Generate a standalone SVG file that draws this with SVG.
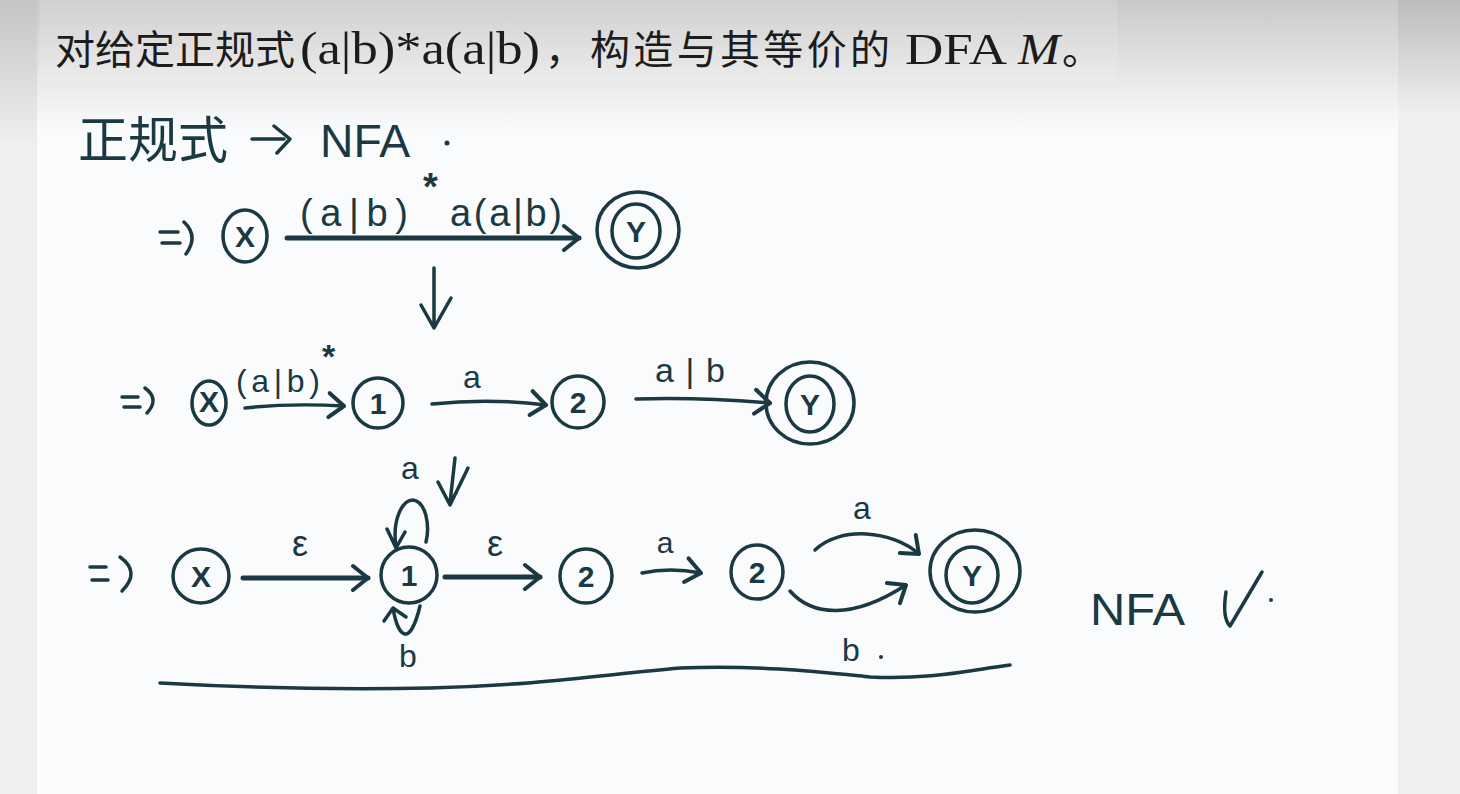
<svg xmlns="http://www.w3.org/2000/svg" width="1460" height="794" viewBox="0 0 1460 794">
<defs>
<linearGradient id="gMain" gradientUnits="userSpaceOnUse" x1="0" y1="0" x2="0" y2="130">
<stop offset="0" stop-color="#c9c9c9"/><stop offset="0.6" stop-color="#e8e8e9"/><stop offset="1" stop-color="#fafbfd"/>
</linearGradient>
<linearGradient id="gTitle" gradientUnits="userSpaceOnUse" x1="0" y1="0" x2="0" y2="82">
<stop offset="0" stop-color="#d0d0d0"/><stop offset="1" stop-color="#ececec"/>
</linearGradient>
<linearGradient id="gLeft" gradientUnits="userSpaceOnUse" x1="0" y1="0" x2="0" y2="140">
<stop offset="0" stop-color="#c4c4c4"/><stop offset="1" stop-color="#eeeeee"/>
</linearGradient>
<linearGradient id="gRight" gradientUnits="userSpaceOnUse" x1="0" y1="0" x2="0" y2="115">
<stop offset="0" stop-color="#bcbcbc"/><stop offset="1" stop-color="#f0f0f0"/>
</linearGradient>
<marker id="arr" viewBox="0 0 20 30" refX="18" refY="15" markerWidth="20" markerHeight="30" markerUnits="userSpaceOnUse" orient="auto">
<path d="M3,3 L18,15 L3,27" fill="none" stroke="#1a3942" stroke-width="4" stroke-linecap="round" stroke-linejoin="round"/>
</marker>
<style>
.ink{fill:none;stroke:#1a3942;stroke-width:3.5;stroke-linecap:round;stroke-linejoin:round}
.thick{stroke-width:5}
.hw{font-family:"Liberation Sans","Noto Sans CJK SC",sans-serif;fill:#1a3942}
.title{font-family:"Liberation Serif","Noto Sans CJK SC",serif;fill:#1c1c1c;font-size:40px}
.lbl{font-size:30px;text-anchor:middle;font-weight:bold}
</style>
</defs>

<!-- background -->
<rect x="0" y="0" width="1460" height="794" fill="#fafbfd"/>
<rect x="37" y="0" width="1361" height="130" fill="url(#gMain)"/>
<rect x="0" y="0" width="37" height="794" fill="#efefef"/>
<rect x="0" y="0" width="37" height="140" fill="url(#gLeft)"/>
<rect x="1398" y="0" width="62" height="794" fill="#f0f0f0"/>
<rect x="1398" y="0" width="62" height="115" fill="url(#gRight)"/>
<rect x="40" y="0" width="1077" height="82" fill="url(#gTitle)"/>

<!-- title -->
<text class="title" y="64"><tspan x="55">对给定正规式</tspan><tspan x="300" font-size="46" textLength="240" lengthAdjust="spacingAndGlyphs">(a|b)*a(a|b)</tspan><tspan x="545">，</tspan><tspan x="590" textLength="300" lengthAdjust="spacing">构造与其等价的</tspan><tspan x="905" font-size="44" textLength="102" lengthAdjust="spacingAndGlyphs">DFA</tspan><tspan x="1018" font-size="44" font-style="italic" textLength="42" lengthAdjust="spacingAndGlyphs">M</tspan><tspan x="1062">。</tspan></text>

<!-- heading: 正规式 -> NFA -->
<g id="heading">
<text class="hw" x="78" y="158" font-size="50">正规式</text>
<path class="ink" d="M252,139 L284,139 M274,126 L290,139 L277,153"/>
<text class="hw" x="320" y="157" font-size="46" textLength="90" lengthAdjust="spacingAndGlyphs">NFA</text>
<circle cx="447" cy="143" r="2.5" fill="#1a3942"/>
</g>

<!-- Row 1 -->
<g id="r1-start"><path class="ink" d="M160,232 L178,232 M162,243 L180,243 M184,222 Q199,236 186,254"/></g>
<g id="r1-X"><ellipse class="ink" cx="245" cy="236" rx="22" ry="26"/><text class="hw lbl" x="245" y="247">X</text></g>
<g id="r1-Y"><ellipse class="ink" cx="638" cy="230" rx="41" ry="38"/><ellipse class="ink" cx="636" cy="231" rx="24" ry="27"/><text class="hw lbl" x="636" y="242" font-size="32">Y</text></g>

<!-- Row 2 -->
<g id="r2-start"><path class="ink" d="M122,397 L138,397 M124,407 L140,407 M145,388 Q160,399 147,413"/></g>
<g id="r2-X"><ellipse class="ink" cx="209" cy="403" rx="17" ry="22"/><text class="hw lbl" x="209" y="412" font-size="24">X</text></g>
<g id="r2-1"><ellipse class="ink" cx="378" cy="403" rx="25" ry="25"/><text class="hw lbl" x="378" y="414">1</text></g>
<g id="r2-2"><ellipse class="ink" cx="578" cy="402" rx="26" ry="26"/><text class="hw lbl" x="578" y="413">2</text></g>
<g id="r2-Y"><ellipse class="ink" cx="810" cy="403" rx="44" ry="41"/><ellipse class="ink" cx="810" cy="404" rx="24" ry="28"/><text class="hw lbl" x="810" y="415">Y</text></g>

<!-- Row 3 -->
<g id="r3-start"><path class="ink" d="M90,567 L106,567 M92,580 L108,580 M120,557 Q141,572 122,591"/></g>
<g id="r3-X"><ellipse class="ink" cx="201" cy="576" rx="28" ry="27"/><text class="hw lbl" x="201" y="587">X</text></g>
<g id="r3-1"><ellipse class="ink" cx="409" cy="575" rx="28" ry="28"/><text class="hw lbl" x="409" y="586">1</text></g>
<g id="r3-2a"><ellipse class="ink" cx="586" cy="576" rx="26" ry="27"/><text class="hw lbl" x="586" y="587">2</text></g>
<g id="r3-2b"><ellipse class="ink" cx="757" cy="572" rx="26" ry="27"/><text class="hw lbl" x="757" y="583">2</text></g>
<g id="r3-Y"><ellipse class="ink" cx="975" cy="571" rx="45" ry="41"/><ellipse class="ink" cx="972" cy="575" rx="26" ry="28"/><text class="hw lbl" x="972" y="586">Y</text></g>

<!-- NFA check -->
<g id="nfa-check">
<text class="hw" x="1090" y="625" font-size="44" textLength="95" lengthAdjust="spacingAndGlyphs">NFA</text>
<path class="ink" d="M1226,592 Q1222,618 1230,626 L1262,572"/>
<circle cx="1271" cy="600" r="2" fill="#1a3942"/>
</g>

<!-- connectors -->
<g id="connectors">
<!-- row 1 -->
<path class="ink thick" d="M287,238 L579,238" marker-end="url(#arr)"/>
<text class="hw" x="300" y="226" font-size="38" textLength="108" lengthAdjust="spacing">(a|b)</text>
<text class="hw" x="423" y="200" font-size="38" font-weight="bold">*</text>
<text class="hw" x="450" y="226" font-size="38" textLength="112" lengthAdjust="spacing">a(a|b)</text>
<!-- transform arrow 1 -->
<path class="ink" d="M434,268 L434,326 M421,305 L434,328 L451,298"/>
<!-- row 2 -->
<path class="ink" d="M245,408 Q290,403 344,406" marker-end="url(#arr)"/>
<text class="hw" x="236" y="392" font-size="32" textLength="84" lengthAdjust="spacing">(a|b)</text>
<text class="hw" x="322" y="368" font-size="34" font-weight="bold">*</text>
<path class="ink" d="M432,404 Q490,398 546,405" marker-end="url(#arr)"/>
<text class="hw" x="472" y="388" font-size="32" text-anchor="middle">a</text>
<path class="ink" d="M636,399 Q700,397 770,403" marker-end="url(#arr)"/>
<text class="hw" x="690" y="382" font-size="34" text-anchor="middle" textLength="70" lengthAdjust="spacing">a|b</text>
<!-- transform arrow 2 -->
<path class="ink" d="M455,458 L450,503 M438,482 L450,505 L468,468"/>
<!-- row 3 -->
<path class="ink thick" d="M243,578 L368,578" marker-end="url(#arr)"/>
<text class="hw" x="300" y="556" font-size="36" text-anchor="middle">ε</text>
<path class="ink" d="M396,547 C392,520 402,500 413,500 C426,502 430,525 426,542 M387,529 L396,548 L405,532"/>
<text class="hw" x="410" y="479" font-size="32" text-anchor="middle">a</text>
<path class="ink" d="M393,608 C398,638 410,648 420,606 M384,621 L393,608 L406,617"/>
<text class="hw" x="408" y="667" font-size="32" text-anchor="middle">b</text>
<path class="ink thick" d="M445,577 L540,577" marker-end="url(#arr)"/>
<text class="hw" x="495" y="556" font-size="36" text-anchor="middle">ε</text>
<path class="ink" d="M642,573 Q670,567 701,573" marker-end="url(#arr)"/>
<text class="hw" x="665" y="553" font-size="30" text-anchor="middle">a</text>
<path class="ink" d="M815,550 C840,526 892,530 919,554" marker-end="url(#arr)"/>
<text class="hw" x="862" y="519" font-size="32" text-anchor="middle">a</text>
<path class="ink" d="M790,591 C812,616 852,620 906,585" marker-end="url(#arr)"/>
<text class="hw" x="851" y="661" font-size="32" text-anchor="middle">b</text>
<circle cx="881" cy="657" r="2" fill="#1a3942"/>
<!-- bottom rule -->
<path class="ink" stroke-width="3" d="M160,683 C250,688 330,690 430,688 C540,685 600,675 680,668 C760,665 820,672 870,677 C930,680 970,670 1010,665"/>
</g>
</svg>
